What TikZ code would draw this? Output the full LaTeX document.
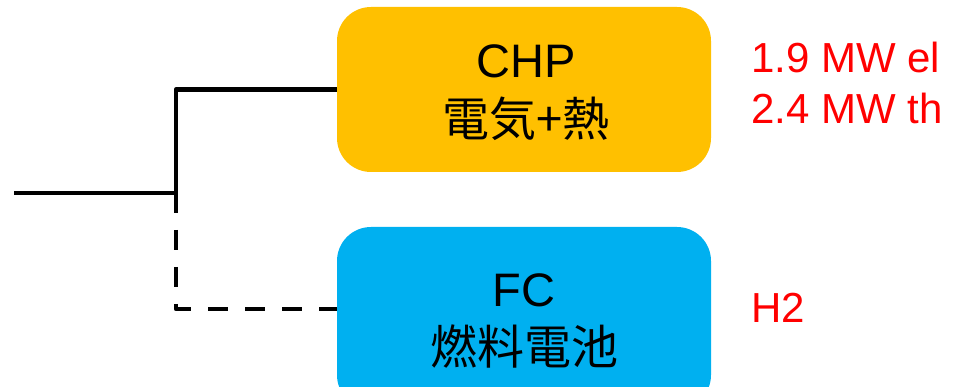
\documentclass[tikz,border=0pt]{standalone}
\usepackage{fontspec}
\setmainfont{Liberation Sans}
\newfontfamily\cjk{Noto Sans CJK JP}
\definecolor{chporange}{HTML}{FFC000}
\definecolor{fcblue}{HTML}{00B0F0}
\definecolor{labelred}{HTML}{FF0000}
\begin{document}
\begin{tikzpicture}[x=1pt,y=-1pt,
  box/.style={rounded corners=34pt, minimum width=374pt, inner sep=0pt, draw=none},
  wire/.style={line width=4.5pt, black, line join=round},
  dashwire/.style={wire, dash pattern=on 20pt off 17pt},
  redlabel/.style={text=labelred, anchor=base west, inner sep=0pt, font=\fontsize{42}{50}\selectfont}]
\useasboundingbox (0,0) rectangle (954,387);
\begin{scope}
\clip (0,0) rectangle (954,387);
\node[box, fill=chporange, minimum height=165pt] (chp) at (524,89.5) {};
\node[box, fill=fcblue, minimum height=182pt] (fc) at (524,318) {};
\end{scope}
\node[inner sep=0pt, font=\fontsize{47}{56}\selectfont] (chpt) at (526,61) {CHP};
\node[inner sep=0pt, font=\cjk\fontsize{47}{56}\selectfont] (chpj) at (526,119) {電気+熱};
\node[inner sep=0pt, font=\fontsize{47}{56}\selectfont] (fct) at (524,290) {FC};
\node[inner sep=0pt, font=\cjk\fontsize{47}{56}\selectfont] (fcj) at (524,347) {燃料電池};
\coordinate (src) at (14,193);
\coordinate (j) at (176,193);
\coordinate (fcin) at (337,309);
\draw[wire] (src) -- (j) |- (chp.west);
\draw[dashwire] (j) |- (fcin);
\node[redlabel] (l1) at (751,73) {1.9 MW el};
\node[redlabel] (l2) at (751,124) {2.4 MW th};
\node[redlabel] (l3) at (751,323) {H2};
\end{tikzpicture}
\end{document}
